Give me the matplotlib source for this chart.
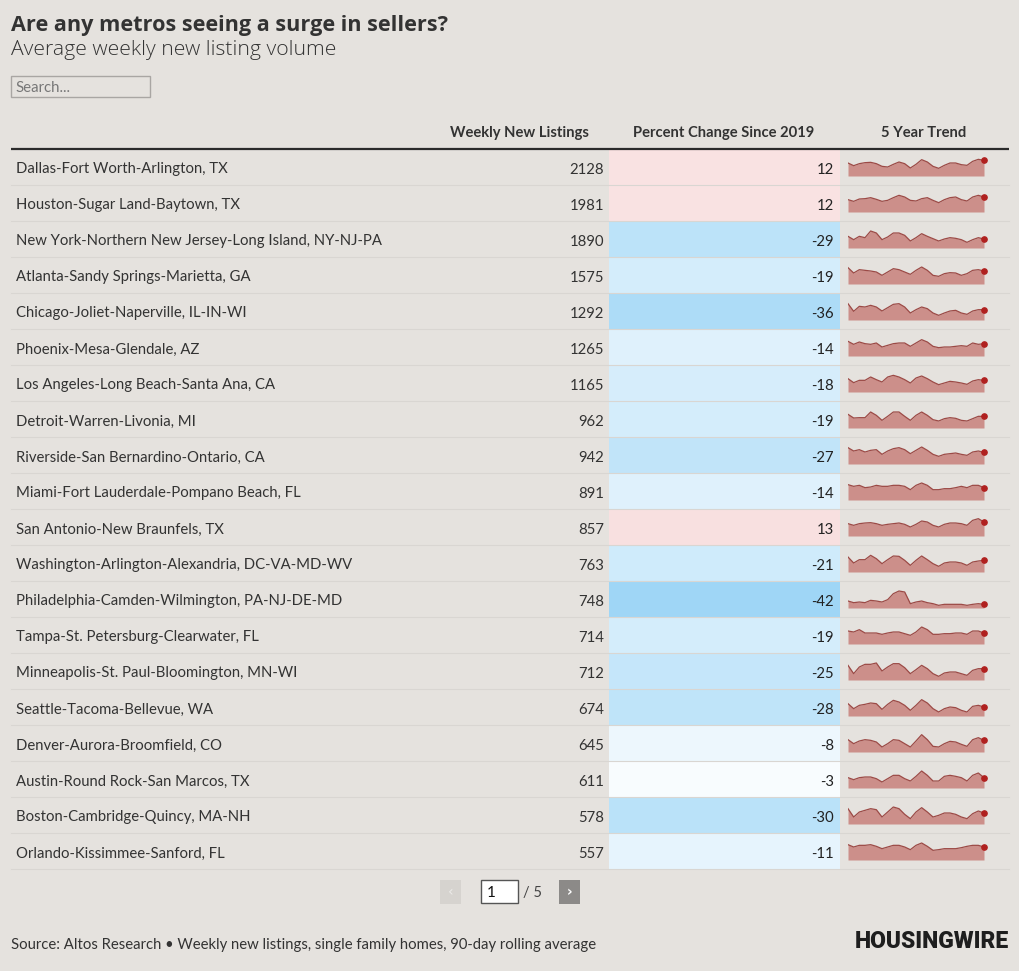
import matplotlib
matplotlib.use("Agg")
import matplotlib.pyplot as plt
from matplotlib import font_manager
from matplotlib.colors import LinearSegmentedColormap, Normalize
from matplotlib.patches import Rectangle

# ---- data -------------------------------------------------------------
metros = [
    "Dallas-Fort Worth-Arlington, TX",
    "Houston-Sugar Land-Baytown, TX",
    "New York-Northern New Jersey-Long Island, NY-NJ-PA",
    "Atlanta-Sandy Springs-Marietta, GA",
    "Chicago-Joliet-Naperville, IL-IN-WI",
    "Phoenix-Mesa-Glendale, AZ",
    "Los Angeles-Long Beach-Santa Ana, CA",
    "Detroit-Warren-Livonia, MI",
    "Riverside-San Bernardino-Ontario, CA",
    "Miami-Fort Lauderdale-Pompano Beach, FL",
    "San Antonio-New Braunfels, TX",
    "Washington-Arlington-Alexandria, DC-VA-MD-WV",
    "Philadelphia-Camden-Wilmington, PA-NJ-DE-MD",
    "Tampa-St. Petersburg-Clearwater, FL",
    "Minneapolis-St. Paul-Bloomington, MN-WI",
    "Seattle-Tacoma-Bellevue, WA",
    "Denver-Aurora-Broomfield, CO",
    "Austin-Round Rock-San Marcos, TX",
    "Boston-Cambridge-Quincy, MA-NH",
    "Orlando-Kissimmee-Sanford, FL",
]
weekly_listings = [2128, 1981, 1890, 1575, 1292, 1265, 1165, 962, 942, 891,
                   857, 763, 748, 714, 712, 674, 645, 611, 578, 557]
pct_change = [12, 12, -29, -19, -36, -14, -18, -19, -27, -14,
              13, -21, -42, -19, -25, -28, -8, -3, -30, -11]

# 5 year trend, relative level
trends = [
    [39, 31, 37, 40, 41, 37, 29, 27, 35, 42, 37, 24, 35, 49, 42, 29, 23, 32, 39, 39, 34, 32, 44, 50, 47],
    [37, 32, 39, 40, 43, 38, 32, 35, 43, 50, 45, 35, 33, 40, 43, 35, 28, 37, 43, 45, 37, 33, 45, 50, 45],
    [35, 25, 35, 31, 51, 45, 25, 33, 45, 45, 38, 21, 31, 43, 35, 28, 21, 27, 31, 29, 25, 17, 25, 31, 27],
    [49, 33, 43, 41, 39, 36, 26, 36, 46, 43, 36, 29, 41, 51, 41, 26, 23, 31, 34, 33, 26, 31, 41, 43, 39],
    [49, 26, 41, 39, 44, 39, 27, 37, 47, 49, 39, 21, 31, 39, 34, 21, 14, 21, 27, 29, 21, 17, 27, 31, 31],
    [44, 35, 42, 37, 35, 39, 27, 32, 37, 39, 39, 29, 39, 49, 42, 29, 25, 27, 27, 29, 31, 29, 39, 35, 37],
    [40, 28, 35, 35, 45, 37, 30, 45, 50, 45, 37, 27, 42, 48, 40, 30, 22, 27, 32, 30, 27, 23, 33, 37, 35],
    [41, 30, 31, 31, 48, 38, 23, 35, 48, 48, 35, 23, 38, 48, 38, 25, 21, 28, 31, 29, 23, 21, 28, 35, 35],
    [49, 39, 43, 36, 41, 43, 29, 39, 46, 49, 43, 31, 41, 51, 41, 29, 23, 29, 31, 33, 29, 26, 36, 39, 35],
    [46, 41, 44, 37, 39, 44, 41, 41, 44, 44, 41, 31, 44, 51, 44, 31, 31, 34, 34, 37, 41, 37, 44, 44, 37],
    [37, 32, 37, 39, 40, 37, 32, 35, 37, 39, 35, 27, 35, 45, 42, 32, 27, 35, 39, 39, 37, 32, 47, 52, 42],
    [45, 27, 37, 37, 50, 40, 25, 37, 48, 47, 35, 20, 35, 48, 37, 25, 17, 27, 30, 30, 27, 20, 30, 33, 35],
    [21, 16, 18, 16, 23, 21, 18, 25, 43, 51, 48, 13, 18, 21, 16, 13, 8, 11, 11, 11, 11, 8, 11, 13, 11],
    [39, 36, 43, 33, 33, 33, 29, 33, 36, 36, 31, 26, 36, 51, 43, 29, 29, 31, 31, 33, 33, 29, 39, 39, 33],
    [44, 19, 39, 47, 47, 51, 27, 39, 49, 49, 37, 19, 31, 44, 34, 19, 11, 21, 24, 24, 19, 14, 29, 34, 34],
    [37, 22, 32, 35, 39, 37, 20, 35, 47, 42, 32, 17, 32, 49, 39, 22, 12, 22, 27, 25, 17, 12, 29, 32, 27],
    [37, 25, 33, 37, 35, 30, 15, 25, 37, 35, 25, 15, 33, 52, 37, 17, 15, 25, 32, 30, 23, 17, 37, 43, 35],
    [31, 25, 31, 33, 33, 28, 18, 28, 38, 38, 28, 21, 35, 51, 38, 21, 21, 35, 38, 35, 31, 21, 38, 45, 31],
    [46, 21, 36, 41, 46, 43, 21, 36, 51, 46, 29, 16, 36, 49, 36, 21, 26, 33, 33, 29, 21, 16, 31, 39, 33],
    [46, 39, 44, 44, 46, 41, 34, 39, 44, 44, 39, 31, 44, 51, 41, 29, 31, 34, 34, 34, 37, 41, 44, 44, 39],
]

headers = ["Weekly New Listings", "Percent Change Since 2019", "5 Year Trend"]
title = "Are any metros seeing a surge in sellers?"
subtitle = "Average weekly new listing volume"
source = "Source: Altos Research \u2022 Weekly new listings, single family homes, 90-day rolling average"

# ---- style ------------------------------------------------------------
BG = "#e5e2de"
TXT = "#333333"
W, H = 1020, 971


def _pick(names):
    available = {f.name for f in font_manager.fontManager.ttflist}
    for n in names:
        if n in available:
            return n
    return "DejaVu Sans"


BODY = _pick(["Lato", "Noto Sans", "DejaVu Sans"])
HEAD = _pick(["Lato", "Noto Sans"])
TITLE = _pick(["Open Sans", "Noto Sans"])
LOGO = _pick(["Liberation Sans Narrow", "Roboto", "DejaVu Sans"])

cmap = LinearSegmentedColormap.from_list("pct", ["#9fd6f6", "#ffffff", "#e99a9a"])
norm = Normalize(-42, 42)

fig = plt.figure(figsize=(W / 100, H / 100), dpi=100, facecolor=BG)
ax = fig.add_axes([0, 0, 1, 1])
ax.set_xlim(0, W)
ax.set_ylim(H, 0)
ax.axis("off")

# titles
ax.text(11, 25, title, fontsize=15.6, fontweight="bold", color=TXT, family=TITLE, va="center")
ax.text(11, 50, subtitle, fontsize=15.2, color=TXT, family=TITLE, va="center", fontweight="light")

# search box
ax.add_patch(Rectangle((11, 76), 139, 21, facecolor=BG, edgecolor="#a9a6a3", lw=1))
ax.text(15, 87.5, "Search...", fontsize=10.8, color="#777777", family=BODY, va="center")

# header
y_head = 133
ax.text(589, y_head, headers[0], fontsize=10.6, fontweight="bold", color=TXT, family=HEAD, ha="right", va="center")
ax.text(724, y_head, headers[1], fontsize=10.6, fontweight="bold", color=TXT, family=HEAD, ha="center", va="center")
ax.text(924, y_head, headers[2], fontsize=10.6, fontweight="bold", color=TXT, family=HEAD, ha="center", va="center")
ax.plot([11, 1009], [149, 149], color="#2b2b2b", lw=1.6, solid_capstyle="butt")

# rows
row_h = 36
top = 150
for i, (name, n, p, tr) in enumerate(zip(metros, weekly_listings, pct_change, trends)):
    y0 = top + i * row_h
    yc = y0 + row_h / 2 + 1.5
    ax.add_patch(Rectangle((609, y0), 231, row_h - 1, facecolor=cmap(norm(p)), edgecolor="none"))
    ax.plot([11, 1009], [y0 + row_h - 0.5, y0 + row_h - 0.5], color="#d9d6d2", lw=0.8)
    ax.text(16, yc, name, fontsize=10.75, color=TXT, family=BODY, va="center")
    ax.text(604, yc, str(n), fontsize=10.75, color=TXT, family=BODY, va="center", ha="right")
    ax.text(834, yc, str(p), fontsize=10.75, color="#222222", family=BODY, va="center", ha="right")

    base = y0 + 26
    sax = fig.add_axes([848 / W, 1 - base / H, 136 / W, 20 / H])
    xs = list(range(len(tr)))
    sax.fill_between(xs, tr, 0, color="#cc8f8a", lw=0)
    sax.plot(xs, tr, color="#9c4a46", lw=0.9, solid_joinstyle="round")
    sax.plot(xs[-1], tr[-1], "o", color="#b0201f", ms=3.8, clip_on=False)
    sax.set_xlim(0, len(tr) - 1)
    sax.set_ylim(0, 60)
    sax.axis("off")

# pagination
ax.add_patch(Rectangle((440, 880), 21, 24, facecolor="#d6d3cf", edgecolor="none"))
ax.text(450.5, 892, "\u2039", fontsize=10, color="#ecebe9", ha="center", va="center", family="DejaVu Sans")
ax.add_patch(Rectangle((481, 880), 37, 23, facecolor="white", edgecolor="#555555", lw=1))
ax.text(487, 893, "1", fontsize=11, color="#111111", family=BODY, va="center")
ax.text(523, 893, "/ 5", fontsize=10.5, color="#444444", family=BODY, va="center")
ax.add_patch(Rectangle((559, 880), 21, 24, facecolor="#8c8a88", edgecolor="none"))
ax.text(569.5, 892, "\u203a", fontsize=10, color="white", ha="center", va="center", family="DejaVu Sans", fontweight="bold")

# footer
ax.text(11, 945, source, fontsize=10.7, color=TXT, family=BODY, va="center")
ax.text(1009, 941, "HOUSINGWIRE", fontsize=16.5, fontweight="black", color="#1e1e1e", family=LOGO, ha="right", va="center")

fig.savefig("out.png", dpi=100, facecolor=BG)
